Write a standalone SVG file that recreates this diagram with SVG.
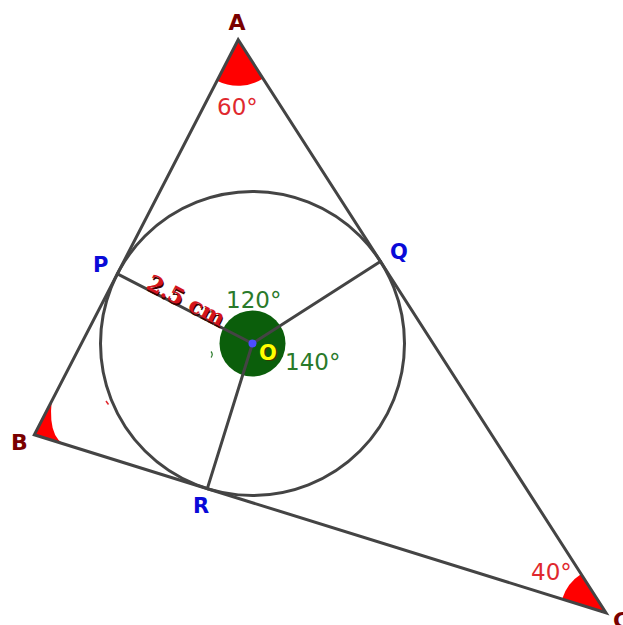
<svg xmlns="http://www.w3.org/2000/svg" width="623" height="625" viewBox="0 0 623 625">
<style>
.side{stroke:#444;stroke-width:3;fill:none;stroke-linecap:round}
.ang{fill:#ff0000;stroke:none}
.vlab{font-family:"DejaVu Sans",sans-serif;font-weight:bold;font-size:22px;fill:#7a0000}
.plab{font-family:"DejaVu Sans",sans-serif;font-weight:bold;font-size:21px;fill:#0a0ad8}
.redt{font-family:"DejaVu Sans",sans-serif;font-size:23px;fill:#e0282e}
.grnt{font-family:"DejaVu Sans",sans-serif;font-size:23px;fill:#2a7a2a}
.meas{font-family:"DejaVu Serif",serif;font-weight:bold;font-size:22.5px}
</style>
<rect width="623" height="625" fill="#fff"/>
<g id="angle-A"><path class="ang" d="M238.2,39.8 L263.05,78.5 A46,46 0 0 1 217.1,80.7 Z"/></g>
<g id="angle-B"><path class="ang" d="M34.3,434.8 L51.7,401 Q47,445 74.4,447.3 Z"/></g>
<g id="angle-C"><path class="ang" d="M606,612.8 L562.1,599.1 A46,46 0 0 1 581.2,574.1 Z"/></g>
<g id="center-disk"><circle cx="252.5" cy="343.5" r="33" fill="#0b5e0b"/></g>
<g id="connectors">
<path class="side" d="M238.2,39.8 L34.3,434.8 L606,612.8 Z"/>
<circle class="side" cx="252.5" cy="343.5" r="152"/>
<path class="side" d="M252.5,343.5 L117.4,273.8 M252.5,343.5 L380.4,261.4 M252.5,343.5 L207.3,488.6"/>
</g>
<g id="marks">
<path d="M211,351.5 Q213.5,354.5 211,357.5" stroke="#2a7a2a" stroke-width="1.2" fill="none"/>
<path d="M106,401 L108.5,404.5" stroke="#e0282e" stroke-width="1.5" fill="none"/>
</g>
<g id="O"><circle cx="252.5" cy="343.5" r="4" fill="#4d4dff"/>
<text x="260.5" y="361" font-family="DejaVu Sans,sans-serif" font-weight="bold" font-size="21" fill="#3a3a00">O</text>
<text x="259" y="360" font-family="DejaVu Sans,sans-serif" font-weight="bold" font-size="21" fill="#ffff00">O</text></g>
<g id="A"><text class="vlab" x="237" y="30" text-anchor="middle">A</text></g>
<g id="B"><text class="vlab" x="11" y="450">B</text></g>
<g id="C"><text class="vlab" x="613" y="628">C</text></g>
<g id="P"><text class="plab" x="93" y="272">P</text></g>
<g id="Q"><text class="plab" x="390" y="259">Q</text></g>
<g id="R"><text class="plab" x="193" y="513">R</text></g>
<g id="labels">
<text class="redt" x="217" y="115">60°</text>
<text class="redt" x="531" y="580">40°</text>
<text class="grnt" x="226" y="308">120°</text>
<text class="grnt" x="285" y="370">140°</text>
<g transform="translate(145,288) rotate(27.3)">
<text class="meas" x="1.5" y="1.5" fill="#3a0000">2.5 cm</text>
<text class="meas" x="0" y="0" fill="#d4141c">2.5 cm</text>
</g>
</g>
</svg>
